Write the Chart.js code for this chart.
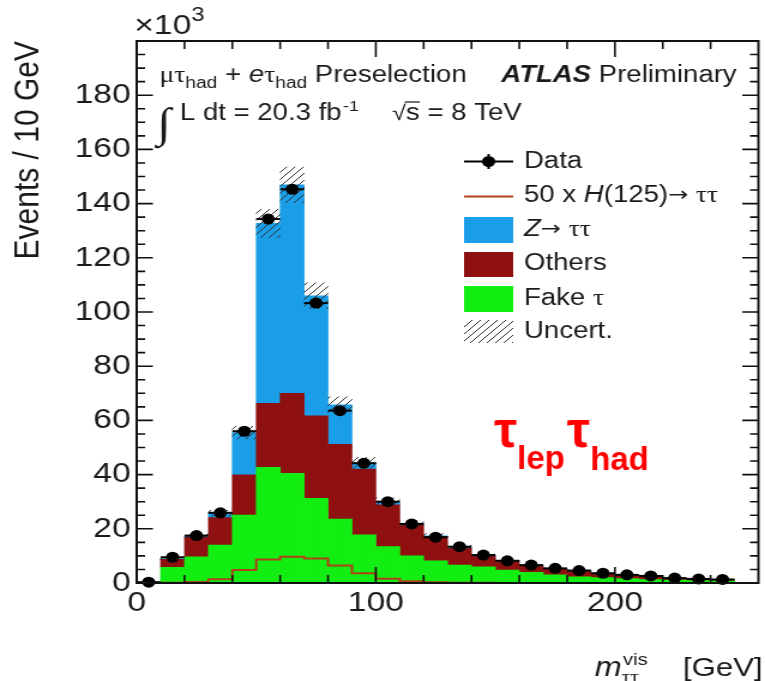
<!DOCTYPE html>
<html>
<head>
<meta charset="utf-8">
<script src="https://cdn.jsdelivr.net/npm/chart.js@4.4.1/dist/chart.umd.min.js"></script>
<style>
  html, body { margin: 0; padding: 0; background: #fff; }
</style>
</head>
<body>
<canvas id="mvis" width="638" height="681" style="display:block;width:765px;height:681px"></canvas>
<script>
// The plot is drawn on a 638 px wide canvas and stretched to 765 px by CSS,
// which gives the wide ROOT-style glyphs and oval markers.
const STRETCH = 765 / 638;
const SANS = '"Liberation Sans", Arial, sans-serif';
const SERIF = '"Liberation Serif", "Times New Roman", serif';
const ARROW = '"DejaVu Sans", sans-serif';

// --- Histogram data (events / 10 GeV, in units of 10^3) ---
const binEdges   = [0, 10, 20, 30, 40, 50, 60, 70, 80, 90, 100, 110, 120, 130, 140, 150, 160, 170, 180, 190, 200, 210, 220, 230, 240, 250];
const binCentres = [5, 15, 25, 35, 45, 55, 65, 75, 85, 95, 105, 115, 125, 135, 145, 155, 165, 175, 185, 195, 205, 215, 225, 235, 245];

const fakeTau    = [0, 5.8, 9.7, 14.0, 25.1, 42.7, 40.5, 31.2, 23.6, 17.8, 13.4, 10.0, 8.2, 6.6, 6.0, 4.8, 3.9, 3.0, 2.3, 2.0, 1.6, 1.3, 1.1, 0.9, 0.8];
const others     = [0, 2.9, 7.2, 10.1, 14.8, 23.6, 29.5, 30.5, 27.6, 24.2, 15.4, 11.4, 8.9, 6.2, 3.9, 3.1, 2.3, 2.1, 1.9, 1.4, 1.2, 1.1, 0.6, 0.5, 0.4];
const zTauTau    = [0, 0.3, 0.4, 1.6, 15.6, 66.4, 76.9, 44.3, 14.5, 2.4, 1.2, 0.6, 0.3, 0.5, 0.3, 0.2, 0.2, 0.2, 0.2, 0.1, 0.1, 0.1, 0.1, 0.1, 0.1];
const bkgUncert  = [0, 0.4, 0.8, 1.1, 2.3, 5.2, 6.6, 4.8, 3.0, 2.0, 1.4, 1.0, 0.8, 0.6, 0.5, 0.4, 0.3, 0.25, 0.2, 0.2, 0.15, 0.1, 0.1, 0.1, 0.1];
const higgsX50   = [0, 0, 0.1, 0.4, 1.4, 4.8, 8.7, 9.7, 9.0, 6.5, 3.6, 1.6, 0.6, 0.3, 0.1, 0.1, 0, 0, 0, 0, 0, 0, 0, 0, 0];
const dataEvents = [0.3, 9.5, 17.5, 25.9, 56.0, 134.3, 145.3, 103.3, 63.6, 44.2, 30.0, 21.8, 16.9, 13.4, 10.3, 8.2, 6.6, 5.4, 4.6, 3.6, 3.0, 2.6, 1.8, 1.5, 1.3];

const xTicksMinor = [20, 40, 60, 80, 120, 140, 160, 180, 220, 240];
const xTicksMajor = [100, 200];
const yTicksMajor = [20, 40, 60, 80, 100, 120, 140, 160, 180];
const yTicksMinor = [5, 10, 15, 25, 30, 35, 45, 50, 55, 65, 70, 75, 85, 90, 95, 105, 110, 115, 125, 130, 135, 145, 150, 155, 165, 170, 175, 185, 190, 195];

const COL_Z = '#1b9ee8';
const COL_OTHERS = '#8e1010';
const COL_FAKE = '#12ee12';
const COL_SIGNAL = '#b0401a';

// diagonal hatch used for the uncertainty band
function makeHatch(ctx) {
    const c = document.createElement('canvas');
    c.width = 7; c.height = 7;
    const g = c.getContext('2d');
    g.strokeStyle = '#333';
    g.lineWidth = 1;
    g.beginPath();
    g.moveTo(0, 7); g.lineTo(7, 0);
    g.moveTo(-1, 1); g.lineTo(1, -1);
    g.moveTo(6, 8); g.lineTo(8, 6);
    g.stroke();
    return ctx.createPattern(c, 'repeat');
}

// draw a run of text pieces left to right, returns end x
function drawRuns(ctx, x, y, runs) {
    runs.forEach(r => {
        ctx.font = r.font;
        ctx.fillText(r.t, x, y + (r.dy || 0));
        x += ctx.measureText(r.t).width;
    });
    return x;
}

const rootFrame = {
    id: 'rootFrame',
    afterDraw(chart) {
        const ctx = chart.ctx;
        const a = chart.chartArea;
        const xs = chart.scales.x, ys = chart.scales.y;
        ctx.save();

        // horizontal error bars on data points
        ctx.strokeStyle = '#000';
        ctx.lineWidth = 2;
        dataEvents.forEach((v, i) => {
            const py = ys.getPixelForValue(v);
            ctx.beginPath();
            ctx.moveTo(xs.getPixelForValue(binEdges[i]), py);
            ctx.lineTo(xs.getPixelForValue(binEdges[i + 1]), py);
            ctx.stroke();
        });

        // frame
        ctx.strokeStyle = '#111';
        ctx.lineWidth = 2;
        ctx.strokeRect(a.left, a.top, a.right - a.left, a.bottom - a.top);

        // inward ticks on all four sides
        ctx.lineWidth = 1.6;
        ctx.beginPath();
        const xt = (v, len) => {
            const px = xs.getPixelForValue(v);
            ctx.moveTo(px, a.bottom); ctx.lineTo(px, a.bottom - len);
            ctx.moveTo(px, a.top); ctx.lineTo(px, a.top + len);
        };
        const yt = (v, len) => {
            const py = ys.getPixelForValue(v);
            ctx.moveTo(a.left, py); ctx.lineTo(a.left + len, py);
            ctx.moveTo(a.right, py); ctx.lineTo(a.right - len, py);
        };
        xTicksMinor.forEach(v => xt(v, 8));
        xTicksMajor.forEach(v => xt(v, 16));
        yTicksMinor.forEach(v => yt(v, 7));
        yTicksMajor.forEach(v => yt(v, 13.5));
        ctx.stroke();

        ctx.fillStyle = '#1a1a1a';
        ctx.textAlign = 'left';
        ctx.textBaseline = 'alphabetic';

        // exponent label
        drawRuns(ctx, 112, 34, [
            { t: '\u00d710', font: `28px ${SANS}` },
            { t: '3', font: `20px ${SANS}`, dy: -13 }
        ]);

        // axis titles
        ctx.save();
        ctx.translate(24, 41);
        ctx.rotate(-Math.PI / 2);
        ctx.textAlign = 'right';
        ctx.textBaseline = 'middle';
        ctx.font = `30px ${SANS}`;
        ctx.fillText('Events / 10 GeV', 0, 0);
        ctx.restore();

        let x = drawRuns(ctx, 496, 676, [{ t: 'm', font: `italic 27px ${SANS}` }]);
        drawRuns(ctx, x + 1, 665, [{ t: 'vis', font: `17px ${SANS}` }]);
        drawRuns(ctx, x, 683, [{ t: '\u03c4\u03c4', font: `18px ${SERIF}` }]);
        ctx.textAlign = 'right';
        drawRuns(ctx, 636, 676, [{ t: '[GeV]', font: `26px ${SANS}` }]);
        ctx.textAlign = 'left';

        // header
        drawRuns(ctx, 133, 82, [
            { t: '\u03bc\u03c4', font: `23px ${SERIF}` },
            { t: 'had', font: `16px ${SANS}`, dy: 6 },
            { t: ' + ', font: `23px ${SANS}` },
            { t: 'e', font: `italic 23px ${SANS}` },
            { t: '\u03c4', font: `23px ${SERIF}` },
            { t: 'had', font: `16px ${SANS}`, dy: 6 },
            { t: ' Preselection', font: `23px ${SANS}` }
        ]);
        drawRuns(ctx, 418, 82, [
            { t: 'ATLAS', font: `italic bold 23px ${SANS}` },
            { t: ' Preliminary', font: `23px ${SANS}` }
        ]);
        drawRuns(ctx, 131, 137, [{ t: '\u222b', font: `42px ${SERIF}` }]);
        x = drawRuns(ctx, 150, 120, [{ t: 'L dt = 20.3 fb', font: `23px ${SANS}` }]);
        drawRuns(ctx, x + 1, 111, [{ t: '-1', font: `15px ${SANS}` }]);
        x = drawRuns(ctx, 327, 120, [{ t: '\u221a', font: `21px ${SANS}` }]);
        const sx = x;
        x = drawRuns(ctx, x, 120, [{ t: 's', font: `23px ${SANS}` }]);
        ctx.lineWidth = 1.2;
        ctx.beginPath();
        ctx.moveTo(sx - 1, 102); ctx.lineTo(x, 102);
        ctx.stroke();
        drawRuns(ctx, x, 120, [{ t: ' = 8 TeV', font: `23px ${SANS}` }]);

        // legend
        const lx0 = 387, lx1 = 428, tx = 437;
        ctx.textBaseline = 'middle';
        ctx.strokeStyle = '#000';
        ctx.lineWidth = 2;
        ctx.beginPath();
        ctx.moveTo(lx0, 161.5); ctx.lineTo(lx1, 161.5);
        ctx.moveTo((lx0 + lx1) / 2, 154); ctx.lineTo((lx0 + lx1) / 2, 169);
        ctx.stroke();
        ctx.fillStyle = '#000';
        ctx.beginPath();
        ctx.arc((lx0 + lx1) / 2, 161.5, 5.5, 0, Math.PI * 2);
        ctx.fill();

        ctx.strokeStyle = COL_SIGNAL;
        ctx.beginPath();
        ctx.moveTo(lx0, 196.5); ctx.lineTo(lx1, 196.5);
        ctx.stroke();

        ctx.fillStyle = COL_Z; ctx.fillRect(lx0, 217, lx1 - lx0, 26);
        ctx.fillStyle = COL_OTHERS; ctx.fillRect(lx0, 252, lx1 - lx0, 25);
        ctx.fillStyle = COL_FAKE; ctx.fillRect(lx0, 286, lx1 - lx0, 26);
        ctx.fillStyle = hatch; ctx.fillRect(lx0, 320, lx1 - lx0, 23);

        ctx.fillStyle = '#1a1a1a';
        drawRuns(ctx, tx, 162, [{ t: 'Data', font: `23px ${SANS}` }]);
        drawRuns(ctx, tx, 196, [
            { t: '50 x ', font: `23px ${SANS}` },
            { t: 'H', font: `italic 23px ${SANS}` },
            { t: '(125)', font: `23px ${SANS}` },
            { t: '\u2192 ', font: `20px ${ARROW}` },
            { t: '\u03c4\u03c4', font: `23px ${SERIF}` }
        ]);
        drawRuns(ctx, tx, 230, [
            { t: 'Z', font: `italic 23px ${SANS}` },
            { t: '\u2192 ', font: `20px ${ARROW}` },
            { t: '\u03c4\u03c4', font: `23px ${SERIF}` }
        ]);
        drawRuns(ctx, tx, 264, [{ t: 'Others', font: `23px ${SANS}` }]);
        drawRuns(ctx, tx, 299, [
            { t: 'Fake ', font: `23px ${SANS}` },
            { t: '\u03c4', font: `23px ${SERIF}` }
        ]);
        drawRuns(ctx, tx, 332, [{ t: 'Uncert.', font: `23px ${SANS}` }]);

        // channel tag, drawn without the horizontal stretch
        ctx.save();
        ctx.scale(1 / STRETCH, 1);
        ctx.textBaseline = 'alphabetic';
        ctx.fillStyle = '#ff0000';
        x = drawRuns(ctx, 494, 447, [{ t: '\u03c4', font: `bold 52px ${SANS}` }]);
        x = drawRuns(ctx, x, 469, [{ t: 'lep', font: `bold 33px ${SANS}` }]);
        x = drawRuns(ctx, x + 2, 447, [{ t: '\u03c4', font: `bold 52px ${SANS}` }]);
        drawRuns(ctx, x, 470, [{ t: 'had', font: `bold 33px ${SANS}` }]);
        ctx.restore();

        ctx.restore();
    }
};

const canvas = document.getElementById('mvis');
const hatch = makeHatch(canvas.getContext('2d'));

const totals = fakeTau.map((v, i) => v + others[i] + zTauTau[i]);
const signalSteps = higgsX50.map((v, i) => ({ x: binEdges[i], y: v }));
signalSteps.push({ x: binEdges[binEdges.length - 1], y: 0 });

const barCommon = {
    type: 'bar',
    stack: 'bkg',
    grouped: false,
    barPercentage: 1,
    categoryPercentage: 1,
    borderWidth: 0
};

new Chart(canvas, {
    type: 'bar',
    data: {
        datasets: [
            {
                type: 'line',
                label: 'Data',
                stack: 'data',
                order: 0,
                data: binCentres.map((c, i) => ({ x: c, y: dataEvents[i] })),
                showLine: false,
                pointRadius: 5.5,
                pointBackgroundColor: '#000',
                pointBorderWidth: 0,
                clip: false
            },
            {
                type: 'line',
                label: '50 x H(125)',
                stack: 'sig',
                order: 1,
                data: signalSteps,
                stepped: 'after',
                borderColor: COL_SIGNAL,
                borderWidth: 2,
                pointRadius: 0,
                fill: false
            },
            {
                ...barCommon,
                label: 'Uncert.',
                stack: 'unc',
                order: 2,
                data: binCentres.map((c, i) => ({ x: c, y: [totals[i] - bkgUncert[i], totals[i] + bkgUncert[i]] })),
                backgroundColor: hatch
            },
            { ...barCommon, label: 'Fake tau', order: 3, data: binCentres.map((c, i) => ({ x: c, y: fakeTau[i] })), backgroundColor: COL_FAKE },
            { ...barCommon, label: 'Others', order: 4, data: binCentres.map((c, i) => ({ x: c, y: others[i] })), backgroundColor: COL_OTHERS },
            { ...barCommon, label: 'Z tautau', order: 5, data: binCentres.map((c, i) => ({ x: c, y: zTauTau[i] })), backgroundColor: COL_Z }
        ]
    },
    options: {
        responsive: false,
        animation: false,
        events: [],
        layout: { padding: { top: 41, right: 4, left: 0, bottom: 0 } },
        plugins: { legend: { display: false }, tooltip: { enabled: false } },
        scales: {
            x: {
                type: 'linear',
                min: 0,
                max: 260,
                offset: false,
                grid: { display: false, drawTicks: false },
                border: { display: false },
                ticks: {
                    stepSize: 100,
                    includeBounds: false,
                    maxRotation: 0,
                    autoSkip: false,
                    padding: 3,
                    color: '#1a1a1a',
                    font: { family: 'Liberation Sans', size: 28 }
                },
                afterFit: s => { s.height = 98; }
            },
            y: {
                stacked: true,
                min: 0,
                max: 200,
                grid: { display: false, drawTicks: false },
                border: { display: false },
                ticks: {
                    stepSize: 20,
                    includeBounds: false,
                    padding: 5,
                    color: '#1a1a1a',
                    font: { family: 'Liberation Sans', size: 28 },
                    callback: v => (v >= 200 ? '' : v)
                },
                afterFit: s => { s.width = 114; }
            }
        }
    },
    plugins: [rootFrame]
});
</script>
</body>
</html>
